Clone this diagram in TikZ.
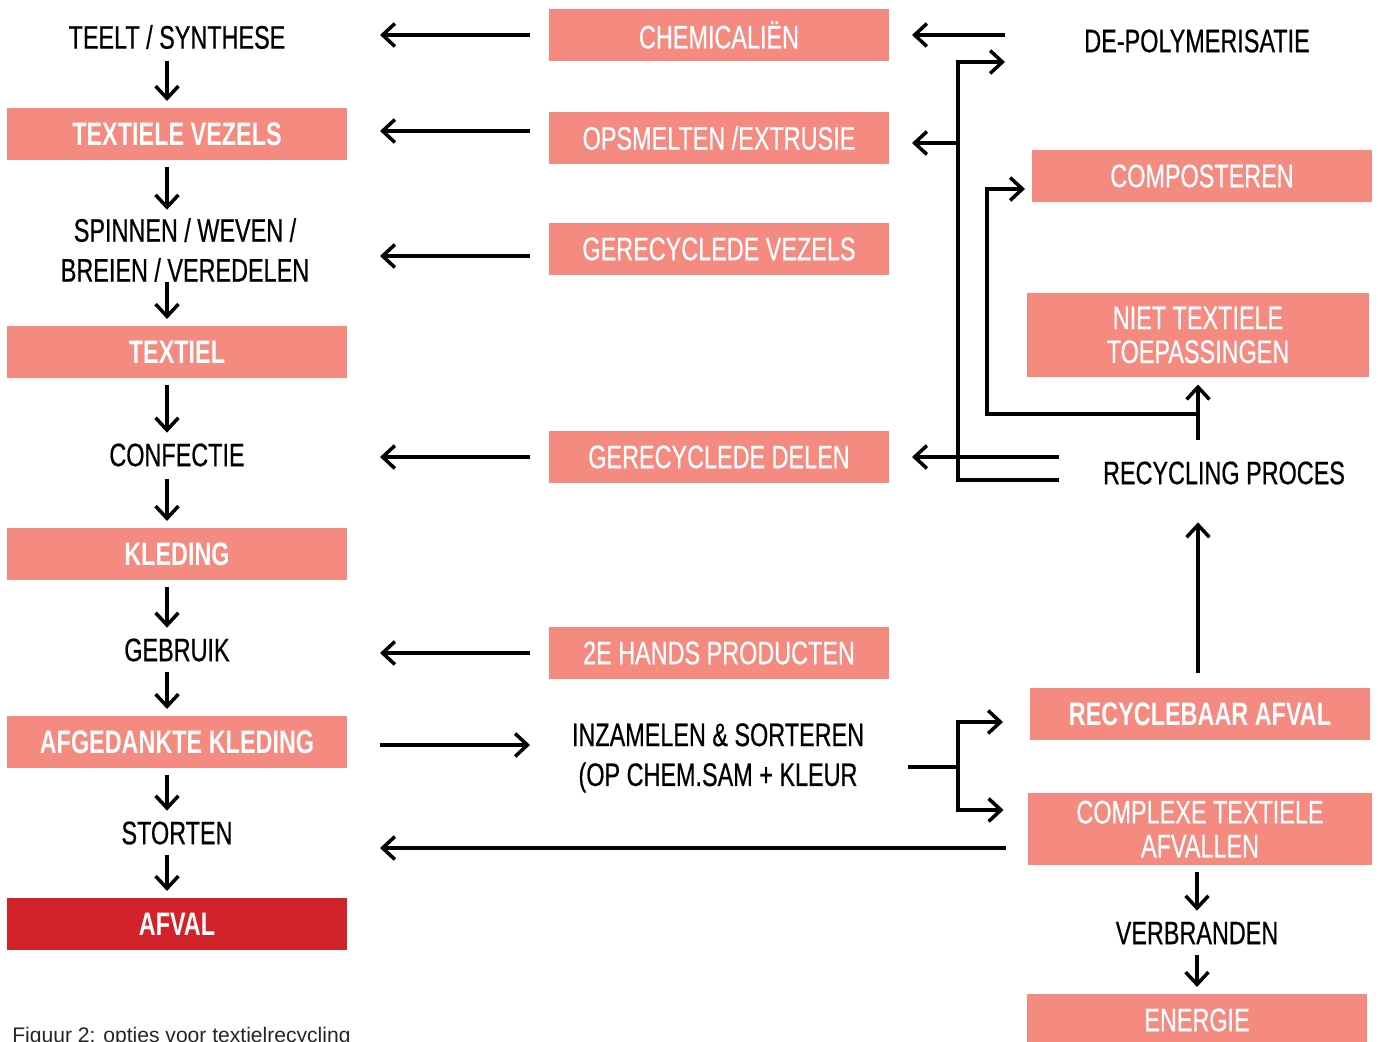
\documentclass[tikz,border=0pt]{standalone}
\usepackage{fontspec}
\setmainfont{Liberation Sans}[FakeStretch=0.72, UprightFeatures={FakeBold=0.5}]
\newfontfamily\onderschrift{Liberation Sans}
\usepackage{tikz}
\usetikzlibrary{arrows.meta, calc}

\definecolor{zalm}{HTML}{F48A80}
\definecolor{afvalrood}{HTML}{D2232A}

\tikzset{
   pijl/.style={line width=2pt, -{Straight Barb[length=7pt,width=13pt]}},
   lijn/.style={line width=2pt},
   terug/.style={pijl, shorten <=0.24cm},
   heen/.style={pijl, shorten >=0.32cm},
   tekst/.style={inner sep=0pt, minimum height=0.88cm, align=center,
      font=\fontsize{18.5}{22.7}\selectfont},
   blok/.style={fill=zalm, text=white, inner sep=0pt, minimum width=6.8cm,
      minimum height=1.04cm, align=center, outer sep=4pt,
      font=\fontsize{18.5}{19.3}\selectfont},
   vetblok/.style={blok, font=\fontsize{18.5}{19.3}\selectfont\bfseries},
}

\begin{document}
\begin{tikzpicture}[x=0.02cm, y=-0.02cm]
   \useasboundingbox (0,0) rectangle (1378,1041);
   \coordinate (kol) at (167,0);
   \coordinate (links) at (380,0);
   \coordinate (midden) at (530,0);
   \coordinate (r1) at (1005,0);
   \coordinate (tak) at (958,62);
   \coordinate (knik) at (1198,414);
   \coordinate (vork) at (958,767);

   % linker kolom
   \node[tekst] (teelt) at (177,37) {TEELT / SYNTHESE};
   \node[vetblok] (vezels) at (177,134) {TEXTIELE VEZELS};
   \node[tekst] (spinnen) at (185,250) {SPINNEN / WEVEN /\\BREIEN / VEREDELEN};
   \node[vetblok] (textiel) at (177,352) {TEXTIEL};
   \node[tekst] (confectie) at (177,455) {CONFECTIE};
   \node[vetblok] (kleding) at (177,554) {KLEDING};
   \node[tekst] (gebruik) at (177,650) {GEBRUIK};
   \node[vetblok] (afgedankt) at (177,742) {AFGEDANKTE KLEDING};
   \node[tekst] (storten) at (177,833) {STORTEN};
   \node[vetblok, fill=afvalrood] (afval) at (177,924) {AFVAL};

   \draw[pijl, shorten <=1pt] (teelt.south -| kol) -- (vezels.north -| kol);
   \draw[pijl, shorten >=0.16cm] (vezels.south -| kol) -- (spinnen.north -| kol);
   \draw[pijl] (spinnen.south -| kol) -- (textiel.north -| kol);
   \draw[pijl] (textiel.south -| kol) -- (confectie.north -| kol);
   \draw[pijl, shorten <=1pt] (confectie.south -| kol) -- (kleding.north -| kol);
   \draw[pijl] (kleding.south -| kol) -- (gebruik.north -| kol);
   \draw[pijl] (gebruik.south -| kol) -- (afgedankt.north -| kol);
   \draw[pijl] (afgedankt.south -| kol) -- (storten.north -| kol);
   \draw[pijl] (storten.south -| kol) -- (afval.north -| kol);

   % midden
   \node[blok] (chem) at (719,35) {CHEMICALIËN};
   \node[blok] (opsmelten) at (719,138) {OPSMELTEN /EXTRUSIE};
   \node[blok] (rvezels) at (719,249) {GERECYCLEDE VEZELS};
   \node[blok] (delen) at (719,457) {GERECYCLEDE DELEN};
   \node[blok] (tweedehands) at (719,653) {2E HANDS PRODUCTEN};
   \node[tekst] (inzamelen) at (718,758) {INZAMELEN \& SORTEREN\\(OP CHEM.SAM + KLEUR};

   \draw[terug] (chem.west) -- (chem.west -| links);
   \draw[terug] ([yshift=0.14cm]opsmelten.west) -- ([yshift=0.14cm]opsmelten.west -| links);
   \draw[terug] ([yshift=-0.14cm]rvezels.west) -- ([yshift=-0.14cm]rvezels.west -| links);
   \draw[terug] (delen.west) -- (delen.west -| links);
   \draw[terug] (tweedehands.west) -- (tweedehands.west -| links);
   \draw[pijl] ([yshift=-0.06cm]afgedankt.east -| links) -- ([yshift=-0.06cm]afgedankt.east -| midden);

   % rechter kolom
   \node[tekst] (depoly) at (1197,41) {DE-POLYMERISATIE};
   \node[blok] (compost) at (1202,176) {COMPOSTEREN};
   \node[blok, minimum width=6.86cm, minimum height=1.7cm] (niet) at (1198,335)
      {NIET TEXTIELE\\TOEPASSINGEN};
   \node[tekst] (recycling) at (1224,473) {RECYCLING PROCES};
   \node[vetblok] (recyclebaar) at (1200,714) {RECYCLEBAAR AFVAL};
   \node[blok, minimum width=6.9cm, minimum height=1.44cm] (complex) at (1200,829)
      {COMPLEXE TEXTIELE\\AFVALLEN};
   \node[tekst] (verbranden) at (1197,933) {VERBRANDEN};
   \node[blok] (energie) at (1197,1020) {ENERGIE};

   \draw[heen] (chem.east -| r1) -- (chem.east);
   \draw[pijl] ($(recycling.west)+(-44,7)$) -| (tak) -- (tak -| r1);
   \draw[heen] ([yshift=-0.1cm]opsmelten.east -| tak) -- ([yshift=-0.1cm]opsmelten.east);
   \draw[heen, shorten <=0.88cm] (delen.east -| recycling.west) -- (delen.east);
   \draw[pijl] (knik) -| ($(compost.west)+(-38,13)$) -- ($(compost.west)+(0,13)$);
   \draw[pijl, shorten <=0.22cm] (recycling.north -| niet) -- (niet.south);
   \draw[pijl, shorten <=0.16cm, shorten >=0.54cm] (recyclebaar.north -| niet)
      -- (recycling.south -| niet);
   \draw[lijn, shorten <=0.88cm] (inzamelen.east |- vork) -- (vork);
   \draw[pijl] (vork) |- ($(recyclebaar.west)+(-20,8)$);
   \draw[pijl] (vork) |- ($(complex.west)+(-17,-19)$);
   \draw[pijl] ($(complex.west)+(-15,19)$) -- ($(complex.west -| links)+(0,19)$);
   \draw[pijl] (complex.south -| verbranden) -- (verbranden.north);
   \draw[pijl] (verbranden.south) -- (energie.north);

   \node[anchor=base west, inner sep=0pt, text=black!85,
      font=\onderschrift\fontsize{12}{14}\selectfont] (figuur) at (12,1042)
      {Figuur 2: opties voor textielrecycling};
\end{tikzpicture}
\end{document}
